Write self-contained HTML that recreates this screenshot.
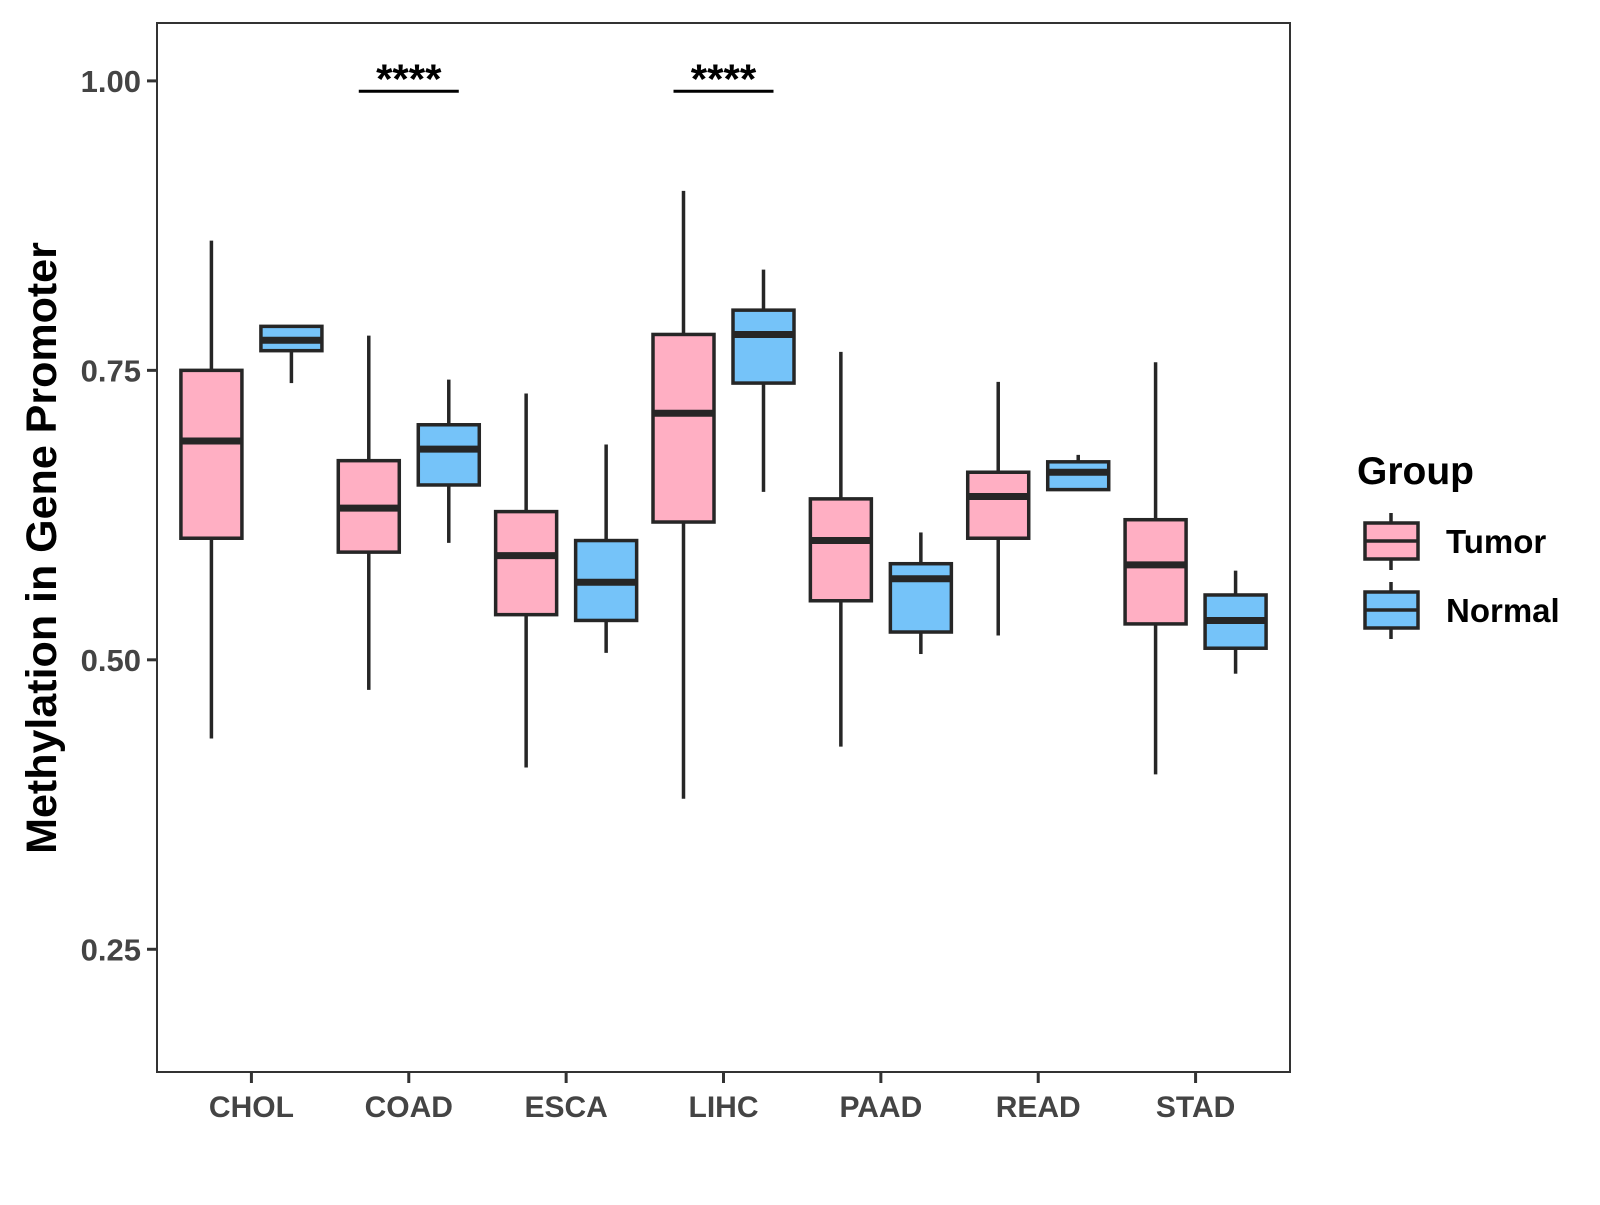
<!DOCTYPE html>
<html><head><meta charset="utf-8"><style>
body{margin:0;background:#fff}
svg text{font-family:"Liberation Sans",Arial,sans-serif;font-weight:bold}
</style></head><body>
<svg id="chart" width="1600" height="1200" viewBox="0 0 1600 1200" xmlns="http://www.w3.org/2000/svg">
<rect x="0" y="0" width="1600" height="1200" fill="#fff"/>
<g id="plot"></g>
</svg>
<script>
const categories=["CHOL","COAD","ESCA","LIHC","PAAD","READ","STAD"];
const groups=["Tumor","Normal"];
// [lower whisker, Q1, median, Q3, upper whisker]
const tumorStats=[[0.432,0.605,0.689,0.750,0.862],[0.474,0.593,0.631,0.672,0.780],[0.407,0.539,0.590,0.628,0.730],[0.380,0.619,0.713,0.781,0.905],[0.425,0.551,0.603,0.639,0.766],[0.521,0.605,0.641,0.662,0.740],[0.401,0.531,0.582,0.621,0.757]];
const normalStats=[[0.739,0.767,0.776,0.788,0.788],[0.601,0.651,0.682,0.703,0.742],[0.506,0.534,0.567,0.603,0.686],[0.645,0.739,0.781,0.802,0.837],[0.505,0.524,0.570,0.583,0.610],[0.646,0.647,0.662,0.671,0.677],[0.488,0.510,0.534,0.556,0.577]];
const yTicks=[0.25,0.50,0.75,1.00];
const yTickLabels=["0.25","0.50","0.75","1.00"];
const sigCategories=["COAD","LIHC"];
const sigLabels=["****","****"];
const sigY=[0.991,0.991];
const colors=["#FFAFC3","#75C3F9"];

const L=157,R=1290,T=23,B=1072,yMin=0.144,yMax=1.050;
const NS="http://www.w3.org/2000/svg";
const plot=document.getElementById('plot');
function y(v){return B-(v-yMin)/(yMax-yMin)*(B-T);}
const step=(R-L)/(categories.length-1+1.2);
function x(i){return L+step*(i+0.6);}
function mk(tag,attrs,parent){const e=document.createElementNS(NS,tag);for(const k in attrs)e.setAttribute(k,attrs[k]);(parent||plot).appendChild(e);return e;}

const panel=mk('rect',{x:L,y:T,width:R-L,height:B-T,fill:'none',stroke:'#333',"stroke-width":2});



yTicks.forEach((v,i)=>{
  const t=mk('line',{x1:L-10,x2:L,y1:y(v),y2:y(v),stroke:'#333',"stroke-width":3});
  
  
  const lb=mk('text',{x:L-16,y:y(v)+11,"text-anchor":'end',"font-size":31,fill:'#444'});
  lb.textContent=yTickLabels[i];
  
  
});
categories.forEach((c,i)=>{
  const t=mk('line',{x1:x(i),x2:x(i),y1:B,y2:B+11,stroke:'#333',"stroke-width":3});
  
  
  const lb=mk('text',{x:x(i),y:B+45,"text-anchor":'middle',"font-size":30,fill:'#444'});
  lb.textContent=c;
  
  
});

const dodge=40,bw=61;
[tumorStats,normalStats].forEach((stats,g)=>{
  stats.forEach((s,i)=>{
    const cx=x(i)+(g===0?-dodge:dodge);
    const grp=mk('g',{});
    
    
    mk('line',{x1:cx,x2:cx,y1:y(s[4]),y2:y(s[3]),stroke:'#262626',"stroke-width":3.5},grp);
    mk('line',{x1:cx,x2:cx,y1:y(s[1]),y2:y(s[0]),stroke:'#262626',"stroke-width":3.5},grp);
    mk('rect',{x:cx-bw/2,y:y(s[3]),width:bw,height:y(s[1])-y(s[3]),fill:colors[g],stroke:'#262626',"stroke-width":3.5},grp);
    mk('line',{x1:cx-bw/2,x2:cx+bw/2,y1:y(s[2]),y2:y(s[2]),stroke:'#262626',"stroke-width":7},grp);
  });
});

sigCategories.forEach((c,k)=>{
  const i=categories.indexOf(c);
  const ln=mk('line',{x1:x(i)-50,x2:x(i)+50,y1:y(sigY[k]),y2:y(sigY[k]),stroke:'#000',"stroke-width":3});
  
  
  const t=mk('text',{x:x(i),y:y(sigY[k])+2,"text-anchor":'middle',"font-size":42,fill:'#000'});
  t.textContent=sigLabels[k];
  
  
});

const yt=mk('text',{x:0,y:0,transform:'translate(56,548) rotate(-90)',"text-anchor":'middle',"font-size":43,fill:'#000'});
yt.textContent='Methylation in Gene Promoter';



const lg=mk('g',{});


const lt=mk('text',{x:1357,y:484,"font-size":39,fill:'#000'},lg);
lt.textContent='Group';


groups.forEach((gname,g)=>{
  const top=523+g*69;
  const e=mk('g',{},lg);
  
  
  mk('line',{x1:1391,x2:1391,y1:top-10,y2:top+47,stroke:'#262626',"stroke-width":3.5},e);
  mk('rect',{x:1365,y:top,width:53,height:36,fill:colors[g],stroke:'#262626',"stroke-width":3.5},e);
  mk('line',{x1:1365,x2:1418,y1:top+18,y2:top+18,stroke:'#262626',"stroke-width":3.5},e);
  const tx=mk('text',{x:1446,y:top+30,"font-size":33,fill:'#000'},e);
  tx.textContent=gname;
});
</script>
</body></html>
